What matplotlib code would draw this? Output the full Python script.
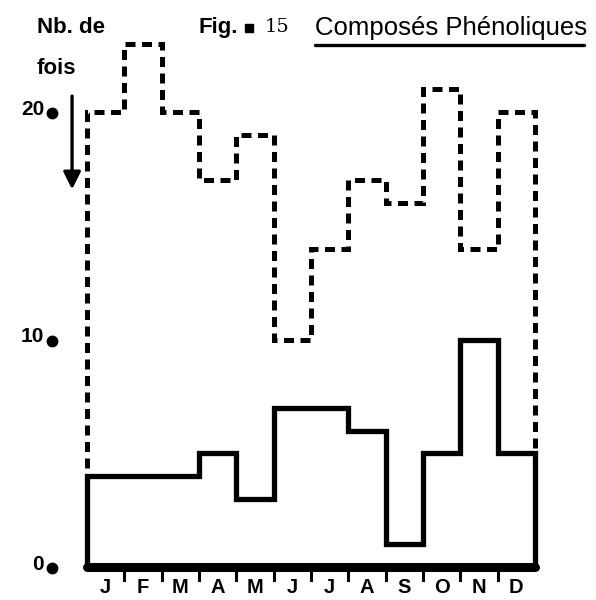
import numpy as np
import matplotlib
matplotlib.use("Agg")
import matplotlib.pyplot as plt

months = ["J", "F", "M", "A", "M", "J", "J", "A", "S", "O", "N", "D"]
total_counts = [20, 23, 20, 17, 19, 10, 14, 17, 16, 21, 14, 20]
positive_counts = [4, 4, 4, 5, 3, 7, 7, 6, 1, 5, 10, 5]
y_ticks = [0, 10, 20]
y_tick_labels = ["0", "10", "20"]

W, H = 596, 600
fig = plt.figure(figsize=(W / 100, H / 100), dpi=100)
ax = fig.add_axes([0, 0, 1, 1])

# pixel geometry of the plotting frame
x0_px, x12_px = 87, 535
y0_px, y20_px = 567, 112
sx = (x12_px - x0_px) / 12.0
sy = (y0_px - y20_px) / 20.0
ax.set_xlim(-x0_px / sx, (W - x0_px) / sx)
ax.set_ylim(-(H - y0_px) / sy, y0_px / sy)
ax.axis("off")

edges = np.arange(len(months) + 1)

ax.stairs(total_counts, edges, baseline=0, fill=False, color="black",
          linewidth=3.6, linestyle=(0, (2.0, 1.3)), zorder=3)
ax.stairs(positive_counts, edges, baseline=0, fill=False, color="black",
          linewidth=3.8, zorder=4)
ax.plot([edges[0], edges[-1]], [0, 0], color="black", linewidth=6.5,
        solid_capstyle="round", zorder=5)

# month ticks under the baseline
for e in edges[1:-1]:
    ax.plot([e, e], [0, -0.55], color="black", linewidth=2.2, zorder=5)

font = "Liberation Sans"
for i, m in enumerate(months):
    ax.text(i + 0.5, -1.15, m, ha="center", va="baseline", fontsize=14.5,
            fontweight="bold", family=font)

for v, lab in zip(y_ticks, y_tick_labels):
    ax.text(-1.15, v + 0.12, lab, ha="right", va="center", fontsize=15,
            fontweight="bold", family=font)
    ax.plot([-0.95], [v - 0.05], marker="o", markersize=7.5, color="black")

# axis caption and downward arrow
ax.text(-1.35, 23.7, "Nb. de", ha="left", va="center", fontsize=16,
        fontweight="bold", family=font)
ax.text(-1.35, 21.9, "fois", ha="left", va="center", fontsize=16,
        fontweight="bold", family=font)
ax.annotate("", xy=(-0.40, 16.6), xytext=(-0.40, 20.7),
            arrowprops=dict(arrowstyle="-|>", color="black", lw=2.4,
                            mutation_scale=26, shrinkA=0, shrinkB=0))

# figure title
ax.text(3.0, 23.7, "Fig.", ha="left", va="center", fontsize=16,
        fontweight="bold", family=font)
ax.plot([4.35], [23.7], marker="s", markersize=6, color="black")
ax.text(4.75, 23.75, "15", ha="left", va="center", fontsize=14,
        family="DejaVu Serif")
ax.text(6.1, 23.7, "Composés Phénoliques", ha="left", va="center",
        fontsize=18.5, family=font)
ax.plot([6.1, 13.3], [22.95, 22.95], color="black", linewidth=2.4,
        solid_capstyle="round")

fig.savefig("out.png", dpi=100)
